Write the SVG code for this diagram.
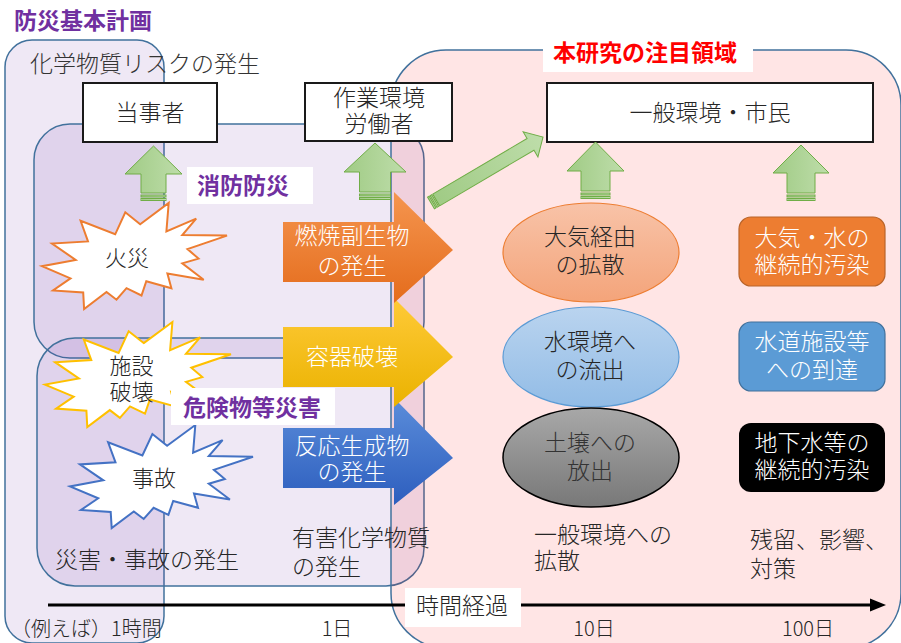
<svg xmlns="http://www.w3.org/2000/svg" width="901" height="643" viewBox="0 0 901 643">
<defs>
<style>
.t{font-family:"Noto Sans CJK JP","Noto Sans",sans-serif;font-size:23px;fill:#262626;font-weight:300}
.c{text-anchor:middle}
.b{font-weight:bold}
.w{fill:#ffffff}
.pu{fill:#7030A0}
.zone{stroke:#41719C;stroke-width:1.5;fill:#7030A0;fill-opacity:0.11}
.pink{stroke:#41719C;stroke-width:1.5;fill:#FF0000;fill-opacity:0.1}
.wb{fill:#ffffff;stroke:#1a1a1a;stroke-width:2}
.ga{fill:url(#gGreen);stroke:#70AD47;stroke-width:1}
.lab{fill:#ffffff}
</style>
<linearGradient id="gGreen" x1="0" y1="0" x2="1" y2="0">
<stop offset="0" stop-color="#A0CB85"/><stop offset="1" stop-color="#BEDDAA"/>
</linearGradient>
<linearGradient id="gOr" x1="0" y1="0" x2="0" y2="1">
<stop offset="0" stop-color="#F5954F"/><stop offset="1" stop-color="#E46C1C"/>
</linearGradient>
<linearGradient id="gYe" x1="0" y1="0" x2="0" y2="1">
<stop offset="0" stop-color="#FFCA38"/><stop offset="1" stop-color="#EAB200"/>
</linearGradient>
<linearGradient id="gBl" x1="0" y1="0" x2="0" y2="1">
<stop offset="0" stop-color="#5B8DDA"/><stop offset="1" stop-color="#2D5EBE"/>
</linearGradient>
<linearGradient id="gEo" x1="0" y1="0" x2="0" y2="1">
<stop offset="0" stop-color="#F8C3A8"/><stop offset="1" stop-color="#F4A47A"/>
</linearGradient>
<linearGradient id="gEb" x1="0" y1="0" x2="0" y2="1">
<stop offset="0" stop-color="#BAD4EF"/><stop offset="1" stop-color="#92BCE6"/>
</linearGradient>
<linearGradient id="gEg" x1="0" y1="0" x2="0" y2="1">
<stop offset="0" stop-color="#A8A8A8"/><stop offset="1" stop-color="#787878"/>
</linearGradient>
</defs>

<rect width="901" height="643" fill="#ffffff"/>

<g id="zones">
<rect id="zone-risk" class="zone" x="5" y="40" width="159" height="603" rx="27"/>
<rect id="zone-fire" class="zone" x="34" y="124" width="390" height="234" rx="36"/>
<rect id="zone-hazard" class="zone" x="37" y="338" width="387" height="248" rx="38"/>
<rect id="zone-study" class="pink" x="391" y="50" width="510" height="598" rx="55"/>
</g>

<g id="title">
<text class="t b pu" x="14" y="29">防災基本計画</text>
<text class="t" x="30" y="72" style="fill:#333">化学物質リスクの発生</text>
</g>

<g id="node-touji">
<rect class="wb" x="83" y="83" width="134" height="59"/>
<text class="t c" x="150" y="121">当事者</text>
</g>
<g id="node-worker">
<rect class="wb" x="305" y="83" width="147" height="58"/>
<text class="t c" x="379" y="106">作業環境</text>
<text class="t c" x="379" y="132">労働者</text>
</g>
<g id="label-study">
<rect class="lab" x="543" y="30" width="210" height="42"/>
<text class="t b c" x="645" y="61" style="fill:#FF0000">本研究の注目領域</text>
</g>
<g id="node-public">
<rect class="wb" x="547" y="83" width="326" height="59"/>
<text class="t c" x="710" y="121">一般環境・市民</text>
</g>

<g id="connectors">
<g id="up1">
<polygon class="ga" points="153.5,146 182,174 166,174 166,193 141,193 141,174 125,174"/>
<rect class="ga" x="141" y="195" width="25" height="2"/>
<rect class="ga" x="141" y="198.5" width="25" height="2"/>
</g>
<g id="up2">
<polygon class="ga" points="375,143 406,172 390.5,172 390.5,192 359.5,192 359.5,172 344,172"/>
<rect class="ga" x="359.5" y="194" width="31" height="2"/>
<rect class="ga" x="359.5" y="197.5" width="31" height="2"/>
</g>
<g id="up3">
<polygon class="ga" points="595.5,142 624,171 610,171 610,191 581,191 581,171 567,171"/>
<rect class="ga" x="581" y="193" width="29" height="2"/>
<rect class="ga" x="581" y="196.5" width="29" height="2"/>
</g>
<g id="up4">
<polygon class="ga" points="801,145 829,173 815,173 815,193 787,193 787,173 773,173"/>
<rect class="ga" x="787" y="195" width="28" height="2"/>
<rect class="ga" x="787" y="198.5" width="28" height="2"/>
</g>
<g id="diag" transform="translate(431,203) rotate(-30.5)">
<polygon class="ga" points="6,-6.8 115.5,-6.8 115.5,-14.6 130,0 115.5,14.6 115.5,6.8 6,6.8"/>
<rect class="ga" x="0" y="-6.8" width="1.8" height="13.6"/>
<rect class="ga" x="3" y="-6.8" width="1.8" height="13.6"/>
</g>
<g id="timeline">
<line x1="48" y1="605" x2="872" y2="605" stroke="#000" stroke-width="3"/>
<polygon points="870,598.5 886,605 870,611.5" fill="#000"/>
</g>
</g>

<g id="node-reaction">
<polygon points="283,428 394,428 394,398 453,458 394,505 394,488 283,488" fill="url(#gBl)"/>
<text class="t c w" x="352" y="454">反応生成物</text>
<text class="t c w" x="352" y="480">の発生</text>
</g>
<g id="node-container">
<polygon points="283,327 394,327 394,298 453,357 394,407 394,387 283,387" fill="url(#gYe)"/>
<text class="t c w" x="352" y="365">容器破壊</text>
</g>
<g id="node-combustion">
<polygon points="283,222 394,222 394,192 453,250 394,303 394,282 283,282" fill="url(#gOr)"/>
<text class="t c w" x="352" y="244">燃焼副生物</text>
<text class="t c w" x="352" y="274">の発生</text>
</g>

<g id="node-fire">
<polygon fill="#fff" stroke="#ED7D31" stroke-width="2" points="140.2,224.3 168.7,203 166.4,231.4 196.2,218.6 182.3,235.1 227,235.6 187.5,249.1 198.5,258.6 182.3,263.4 203.7,279.7 167.4,273.4 171.4,288.2 146.3,281.2 141.5,295.5 126.5,288.2 116.5,299.7 106.5,291.9 84.1,309 83.2,292.5 53,290.5 70.5,278.4 42,266.2 75.7,259.9 52,243.6 88,241.4 80.6,220.8 115.2,234.3 125.3,212.3"/>
<text class="t c" x="127" y="266" style="font-size:22px">火災</text>
</g>
<g id="node-facility">
<polygon fill="#fff" stroke="#FFC000" stroke-width="2" points="143.7,343.1 172.4,322 170.1,350.1 200.1,337.4 186,353.8 231,354.3 191.3,367.7 202.3,377.1 186,381.8 207.5,398 171.1,391.8 175.1,406.4 149.9,399.5 145,413.6 130,406.4 119.9,417.8 109.8,410.1 87.3,427 86.4,410.7 56.1,408.6 73.7,396.7 45,384.6 78.9,378.4 55.1,362.2 91.3,360 83.8,339.6 118.6,353 128.7,331.2"/>
<text class="t c" x="131.5" y="373.5" style="font-size:22px">施設</text>
<text class="t c" x="131.5" y="400" style="font-size:22px">破壊</text>
</g>
<g id="node-accident">
<polygon fill="#fff" stroke="#4472C4" stroke-width="2" points="167.1,445.7 195.3,425 193.1,452.6 222.6,440.1 208.8,456.1 253,456.7 213.9,469.8 224.8,479 208.8,483.7 229.9,499.5 194,493.4 198,507.8 173.2,501 168.4,514.8 153.6,507.8 143.7,519 133.8,511.4 111.7,528 110.7,512 80.9,510 98.2,498.3 70,486.4 103.3,480.3 79.9,464.4 115.5,462.3 108.1,442.3 142.4,455.4 152.4,434"/>
<text class="t c" x="154" y="485.5" style="font-size:22px">事故</text>
</g>

<g id="label-fire">
<rect class="lab" x="187" y="167" width="126" height="37"/>
<text class="t b pu" x="197" y="193.5">消防防災</text>
</g>
<g id="label-hazard">
<rect class="lab" x="171" y="388" width="164" height="37"/>
<text class="t b pu" x="183" y="415.5">危険物等災害</text>
</g>

<g id="node-air">
<ellipse cx="591" cy="252.5" rx="88" ry="49.5" fill="url(#gEo)" stroke="#ED7D31" stroke-width="1.2"/>
<text class="t c" x="590" y="245">大気経由</text>
<text class="t c" x="590" y="273">の拡散</text>
</g>
<g id="node-water">
<ellipse cx="591" cy="357" rx="88" ry="50" fill="url(#gEb)" stroke="#5B9BD5" stroke-width="1.2"/>
<text class="t c" x="590" y="349.5">水環境へ</text>
<text class="t c" x="590" y="377.5">の流出</text>
</g>
<g id="node-soil">
<ellipse cx="591" cy="457.5" rx="88" ry="49.5" fill="url(#gEg)" stroke="#000" stroke-width="1.5"/>
<text class="t c" x="590" y="451" style="fill:#333">土壌への</text>
<text class="t c" x="590" y="478.5" style="fill:#333">放出</text>
</g>

<g id="node-airwater">
<rect x="739" y="217" width="146" height="69" rx="12" fill="#ED7D31" stroke="#B9642A" stroke-width="1.2"/>
<text class="t c w" x="812" y="245.5">大気・水の</text>
<text class="t c w" x="812" y="272.5">継続的汚染</text>
</g>
<g id="node-supply">
<rect x="739" y="322" width="146" height="69" rx="12" fill="#5B9BD5" stroke="#41719C" stroke-width="1.2"/>
<text class="t c w" x="812" y="349.5">水道施設等</text>
<text class="t c w" x="812" y="377.5">への到達</text>
</g>
<g id="node-ground">
<rect x="739" y="423" width="146" height="69" rx="12" fill="#000"/>
<text class="t c w" x="812" y="451">地下水等の</text>
<text class="t c w" x="812" y="477.5">継続的汚染</text>
</g>

<g id="captions">
<text class="t" x="55" y="568">災害・事故の発生</text>
<text class="t" x="292" y="546">有害化学物質</text>
<text class="t" x="292" y="574.5">の発生</text>
<text class="t" x="534" y="543">一般環境への</text>
<text class="t" x="534" y="568.5">拡散</text>
<text class="t" x="750" y="547.5">残留、影響、</text>
<text class="t" x="750" y="576.5">対策</text>
</g>

<g id="label-time">
<rect class="lab" x="405" y="588" width="116" height="39"/>
<text class="t c" x="462" y="613.5">時間経過</text>
</g>
<g id="ticks">
<text class="t" x="11" y="636" style="font-size:20px">（例えば）1時間</text>
<text class="t c" x="337" y="636" style="font-size:20px">1日</text>
<text class="t c" x="594" y="636" style="font-size:20px">10日</text>
<text class="t c" x="808" y="636" style="font-size:20px">100日</text>
</g>
</svg>
